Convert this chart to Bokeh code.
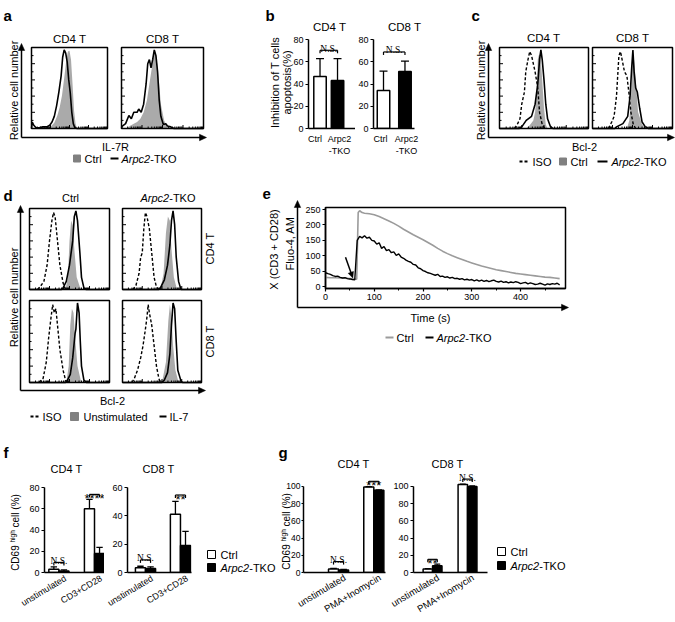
import math
from bokeh.plotting import figure
from bokeh.layouts import row, column
from bokeh.models import Range1d, FixedTicker
from bokeh.core.properties import value
from bokeh.embed import file_html
from bokeh.resources import INLINE

FONT = "Liberation Sans"
SERIF = "Liberation Serif"
HIST_FILL = "#aaaaaa"
LEGEND_FILL = "#808080"
CTRL_LINE = "#9b9b9b"
PI2 = math.pi / 2

# ============================ DATA ============================
# (a) IL-7R histograms (x: position in box 0-100, y: % of max)
A_CD4_CTRL_X = [22, 26, 30, 34, 37, 40, 43, 46, 48, 50, 52, 54, 56, 58, 60]
A_CD4_CTRL_Y = [0, 3, 7, 16, 26, 40, 62, 86, 95, 96, 85, 55, 22, 6, 0]
A_CD4_TKO_X = [0, 1, 3, 6, 10, 15, 20, 24, 27, 30, 33, 36, 39, 41, 43, 45, 47, 49, 51, 53, 55, 57, 60, 100]
A_CD4_TKO_Y = [0, 8, 4, 1, 1, 2, 2, 4, 8, 15, 28, 45, 65, 88, 97, 93, 82, 60, 44, 20, 6, 1, 0, 0]
A_CD8_CTRL_X = [6, 10, 15, 19, 23, 27, 31, 34, 37, 39, 41, 43, 46, 48, 52, 56, 60]
A_CD8_CTRL_Y = [0, 3, 6, 8, 12, 20, 35, 55, 75, 90, 95, 85, 55, 30, 10, 2, 0]
A_CD8_TKO_X = [0, 1, 5, 9, 12, 15, 19, 21, 24, 27, 30, 32, 34, 36, 38, 40, 42, 44, 46, 48, 51, 54, 56, 60, 64, 100]
A_CD8_TKO_Y = [0, 3, 6, 16, 12, 20, 20, 24, 20, 30, 55, 80, 85, 75, 85, 97, 90, 70, 35, 15, 5, 6, 3, 2, 0, 0]

# (c) Bcl-2 histograms
C_CD4_ISO_X = [17, 20, 23, 25, 28, 29.5, 32, 34, 36, 38, 40, 43, 45, 48, 51]
C_CD4_ISO_Y = [0, 5, 12, 30, 45, 70, 85, 95, 90, 80, 70, 50, 20, 5, 0]
C_CD4_CTRL_X = [30, 34, 38, 40, 42, 43, 44, 46, 48, 50, 52, 54]
C_CD4_CTRL_Y = [0, 4, 10, 20, 45, 85, 90, 92, 60, 25, 5, 0]
C_CD4_TKO_X = [0, 22, 25, 30, 36, 40, 43, 45, 46.5, 48, 50, 52, 54, 57, 60, 100]
C_CD4_TKO_Y = [0, 0, 2, 10, 15, 30, 55, 85, 97, 85, 60, 30, 12, 3, 0, 0]
C_CD8_ISO_X = [20, 24, 27, 30, 33, 35, 37, 40, 43, 46, 48, 51, 54]
C_CD8_ISO_Y = [0, 8, 15, 40, 90, 95, 85, 70, 65, 40, 20, 5, 0]
C_CD8_CTRL_X = [43, 46, 48, 50, 52, 54, 57, 62, 66]
C_CD8_CTRL_Y = [0, 10, 35, 90, 85, 60, 20, 5, 0]
C_CD8_TKO_X = [0, 28, 30, 38, 44, 47, 49, 50.5, 52, 54, 56, 59, 62, 66, 70, 100]
C_CD8_TKO_Y = [0, 0, 2, 6, 15, 40, 75, 97, 70, 50, 45, 25, 8, 2, 0, 0]

# (d) Bcl-2 histograms, ISO / Unstimulated / IL-7
D_CD4_CTRL_ISO_X = [10, 13, 18, 22, 25, 28, 30, 32, 35, 38, 42, 45]
D_CD4_CTRL_ISO_Y = [0, 3, 10, 30, 60, 85, 95, 90, 60, 30, 8, 0]
D_CD4_CTRL_UNS_X = [45, 48, 50, 52, 54, 56, 59, 63, 66]
D_CD4_CTRL_UNS_Y = [0, 15, 60, 85, 80, 50, 15, 3, 0]
D_CD4_CTRL_IL7_X = [0, 40, 42, 46, 50, 54, 56, 58, 60, 63, 65, 68, 71, 100]
D_CD4_CTRL_IL7_Y = [0, 0, 2, 10, 30, 60, 90, 97, 85, 45, 15, 2, 0, 0]
D_CD4_TKO_ISO_X = [13, 17, 21, 23, 25, 27, 29, 31, 34, 37, 40, 43, 46]
D_CD4_TKO_ISO_Y = [0, 5, 20, 40, 45, 75, 95, 90, 75, 45, 15, 3, 0]
D_CD4_TKO_UNS_X = [48, 52, 55, 57.5, 60, 62, 65, 69]
D_CD4_TKO_UNS_Y = [0, 20, 70, 90, 85, 50, 15, 0]
D_CD4_TKO_IL7_X = [0, 46, 48, 53, 57, 60, 62, 64, 66, 68, 71, 74, 100]
D_CD4_TKO_IL7_Y = [0, 0, 2, 12, 30, 55, 85, 97, 80, 40, 10, 0, 0]
D_CD8_CTRL_ISO_X = [12, 17, 21, 24, 27, 29, 31, 33, 35, 38, 42, 45, 47]
D_CD8_CTRL_ISO_Y = [0, 5, 25, 55, 80, 95, 85, 90, 70, 40, 15, 3, 0]
D_CD8_CTRL_UNS_X = [46, 49, 51, 53, 55, 57, 60, 64, 67]
D_CD8_CTRL_UNS_Y = [0, 20, 70, 90, 85, 55, 20, 3, 0]
D_CD8_CTRL_IL7_X = [0, 45, 47, 51, 54, 57, 58, 60, 62, 63.5, 65, 68, 71, 100]
D_CD8_CTRL_IL7_Y = [0, 0, 2, 10, 30, 60, 65, 97, 85, 50, 20, 3, 0, 0]
D_CD8_TKO_ISO_X = [12, 15, 19, 23, 26, 29, 31, 32.5, 34, 37, 40, 43, 46, 48]
D_CD8_TKO_ISO_Y = [0, 5, 15, 30, 45, 65, 80, 95, 85, 70, 45, 20, 5, 0]
D_CD8_TKO_UNS_X = [50, 55, 58, 60, 62, 64, 67, 71]
D_CD8_TKO_UNS_Y = [0, 25, 75, 95, 80, 45, 15, 0]
D_CD8_TKO_IL7_X = [0, 50, 53, 57, 60, 62, 64, 66, 68, 70, 74, 76, 100]
D_CD8_TKO_IL7_Y = [0, 0, 3, 12, 35, 70, 97, 90, 50, 15, 2, 0, 0]

# (b) inhibition of apoptosis (%)
B_LABELS = ["Ctrl", "Arpc2\n-TKO"]
B_CD4_MEAN = [46.8, 43.2]
B_CD4_SD = [16.0, 19.6]
B_CD8_MEAN = [34.2, 51.3]
B_CD8_SD = [17.4, 9.3]
B_YTICKS = [0, 20, 40, 60, 80]

# (e) calcium flux, Fluo-4 AM
E_T_CTRL = [0, 10, 20, 30, 40, 50, 60, 64, 67, 70, 75, 80, 90, 100, 110, 120, 130, 140, 150, 160,
            170, 180, 190, 200, 210, 220, 230, 240, 250, 260, 270, 280, 290, 300, 310, 320, 330,
            340, 350, 360, 370, 380, 390, 400, 410, 420, 430, 440, 450, 460, 470, 480]
E_CTRL = [30, 29, 29, 28, 27, 26, 25, 24, 240, 246, 240, 238, 236, 233, 227, 220, 213, 205, 196, 186,
          177, 168, 160, 152, 143, 134, 124, 115, 107, 100, 94, 88, 82, 77, 72, 67, 63,
          59, 55, 52, 49, 46, 43, 41, 39, 37, 35, 33, 31, 30, 28, 26]
E_T_TKO = [0, 5, 10, 15, 20, 25, 30, 35, 40, 45, 50, 55, 60, 65, 70, 75, 80, 85, 90, 95,
           100, 105, 110, 115, 120, 125, 130, 135, 140, 145, 150, 155, 160, 165, 170, 175, 180, 185, 190, 195,
           200, 205, 210, 215, 220, 225, 230, 235, 240, 245, 250, 255, 260, 265, 270, 275, 280, 285, 290, 295,
           300, 305, 310, 315, 320, 325, 330, 335, 340, 345, 350, 355, 360, 365, 370, 375, 380, 385, 390, 395,
           400, 405, 410, 415, 420, 425, 430, 435, 440, 445, 450, 455, 460, 465, 470, 475, 480]
E_TKO = [45, 42, 40, 36, 33, 34, 30, 28, 29, 26, 25, 23, 22, 150, 163, 158, 165, 157, 160, 150,
         148, 138, 142, 124, 130, 117, 120, 110, 113, 101, 106, 96, 92, 86, 82, 79, 72, 70, 61, 58,
         52, 49, 45, 43, 40, 37, 40, 33, 34, 30, 32, 28, 30, 26, 27, 24, 26, 22, 24, 21,
         23, 19, 22, 18, 21, 17, 20, 16, 19, 21, 17, 15, 18, 14, 16, 12, 15, 13, 16, 14,
         10, 12, 14, 9, 12, 10, 7, 8, 11, 8, 5, 9, 7, 10, 8, 11, 6]
E_XTICKS = [0, 100, 200, 300, 400]
E_XMINOR = [50, 150, 250, 350, 450]
E_YTICKS = [0, 50, 100, 150, 200, 250]
E_STIM = (41, 95, 56, 28)   # arrow marking stimulation: (t, value) -> (t, value)

# (f) CD69 high cells (%), unstimulated vs CD3+CD28
F_GROUPS = ["unstimulated", "CD3+CD28"]
F_CD4_CTRL = [3.0, 60.0]
F_CD4_CTRL_SD = [2.3, 8.8]
F_CD4_TKO = [1.5, 17.8]
F_CD4_TKO_SD = [0.9, 5.9]
F_CD8_CTRL = [3.3, 41.1]
F_CD8_CTRL_SD = [1.1, 9.1]
F_CD8_TKO = [2.9, 19.1]
F_CD8_TKO_SD = [1.1, 9.9]
F_CD4_SIG = [("N.S.", 9.5), ("****", 73.5)]
F_CD8_SIG = [("N.S.", 8.9), ("**", 54.7)]

# (g) CD69 high cells (%), unstimulated vs PMA+Inomycin
G_GROUPS = ["unstimulated", "PMA+Inomycin"]
G_CD4_CTRL = [4.1, 99.3]
G_CD4_CTRL_SD = [0.6, 0.5]
G_CD4_TKO = [3.0, 95.5]
G_CD4_TKO_SD = [0.5, 0.6]
G_CD8_CTRL = [4.1, 102.2]
G_CD8_CTRL_SD = [0.4, 0.5]
G_CD8_TKO = [7.8, 100.0]
G_CD8_TKO_SD = [1.9, 0.6]
G_CD4_SIG = [("N.S.", 12.7), ("***", 106.0)]
G_CD8_SIG = [("**", 15.3), ("N.S.", 108.6)]


# ============================ HELPERS ============================
class Geo:
    def __init__(self, fl, fr, ft, fb, xr, yr):
        self.fl, self.fr, self.ft, self.fb = fl, fr, ft, fb
        self.xr, self.yr = xr, yr

    def dx(self, px):
        return self.xr[0] + (px - self.fl) / (self.fr - self.fl) * (self.xr[1] - self.xr[0])

    def dy(self, py):
        return self.yr[0] + (self.fb - py) / (self.fb - self.ft) * (self.yr[1] - self.yr[0])

    def d(self, px, py):
        return self.dx(px), self.dy(py)

    def px(self, x):
        return self.fl + (x - self.xr[0]) / (self.xr[1] - self.xr[0]) * (self.fr - self.fl)

    def py(self, y):
        return self.fb - (y - self.yr[0]) / (self.yr[1] - self.yr[0]) * (self.fb - self.ft)

    def uy(self, n):
        return n * (self.yr[1] - self.yr[0]) / (self.fb - self.ft)


def clean(p):
    p.grid.visible = False
    p.outline_line_color = None
    p.background_fill_color = "white"
    p.border_fill_color = "white"


def canvas(x0, x1, y0, y1):
    p = figure(x_range=Range1d(x0, x1), y_range=Range1d(-y1, -y0),
               frame_width=x1 - x0, frame_height=y1 - y0, min_border=0,
               min_border_left=0, min_border_right=0, min_border_top=0, min_border_bottom=0,
               x_axis_location=None, y_axis_location=None, title=None, frame_align=False,
               toolbar_location=None, output_backend="svg")
    clean(p)
    return p, Geo(x0, x1, y0, y1, (x0, x1), (-y1, -y0))


def plotfig(x0, x1, y0, y1, fl, fr, ft, fb, xr, yr):
    p = figure(x_range=Range1d(*xr), y_range=Range1d(*yr),
               frame_width=fr - fl, frame_height=fb - ft, min_border=0,
               min_border_left=fl - x0, min_border_right=x1 - fr,
               min_border_top=ft - y0, min_border_bottom=y1 - fb, title=None,
               frame_align=False, toolbar_location=None, output_backend="svg")
    clean(p)
    return p, Geo(fl, fr, ft, fb, xr, yr)


def txt(p, g, px, py, s, size=11, align="left", base="middle", angle=0.0, style="normal",
        font=FONT, color="black"):
    x, y = g.d(px, py)
    p.text(x=[x], y=[y], text=[s], text_font=value(font), text_font_size=value(f"{size}px"),
           text_align=align, text_baseline=base, angle=angle, text_font_style=style,
           text_color=color, level="overlay")


def tko(p, g, px, py, size=11):
    txt(p, g, px, py, "Arpc2", size, "left", "middle", style="italic")
    txt(p, g, px + 2.612 * size, py, "-TKO", size, "left", "middle")


def seg(p, g, a, b, lw=1.5, color="black", dash="solid"):
    x0, y0 = g.d(*a)
    x1, y1 = g.d(*b)
    p.segment(x0=[x0], y0=[y0], x1=[x1], y1=[y1], line_width=lw, line_color=color,
              line_dash=dash, level="overlay")


def arrow(p, g, a, b, lw=1.5, hl=7.0, hw=3.2, color="black"):
    vx, vy = b[0] - a[0], b[1] - a[1]
    n = math.hypot(vx, vy)
    ux, uy = vx / n, vy / n
    seg(p, g, a, (b[0] - ux * hl * 0.6, b[1] - uy * hl * 0.6), lw=lw, color=color)
    pts = [b,
           (b[0] - ux * hl - uy * hw, b[1] - uy * hl + ux * hw),
           (b[0] - ux * hl + uy * hw, b[1] - uy * hl - ux * hw)]
    xs = [g.dx(q[0]) for q in pts]
    ys = [g.dy(q[1]) for q in pts]
    p.patch(x=xs, y=ys, fill_color=color, line_color=color, line_width=0.5, level="overlay")


def sq(p, g, l, t, r, b, fill, line="black", lw=1.0):
    x0, y0 = g.d(l, b)
    x1, y1 = g.d(r, t)
    p.quad(left=[x0], right=[x1], bottom=[y0], top=[y1], fill_color=fill,
           line_color=line, line_width=lw, level="overlay")


def hbox(p, g, name, box, curves):
    bl, bt, br, bb = box
    kx = (br - bl) / 100.0
    ky = (bb - bt) / 100.0
    sx = -(bl - g.fl) / kx
    sy = -(g.fb - bb) / ky
    xr = dict(p.extra_x_ranges)
    yr = dict(p.extra_y_ranges)
    xr[name] = Range1d(sx, sx + (g.fr - g.fl) / kx)
    yr[name] = Range1d(sy, sy + (g.fb - g.ft) / ky)
    p.extra_x_ranges = xr
    p.extra_y_ranges = yr
    for kind, xs, ys in curves:
        if kind == "fill":
            p.patch(x=xs, y=ys, fill_color=HIST_FILL, line_color=None,
                    x_range_name=name, y_range_name=name)
        elif kind == "iso":
            p.line(x=xs, y=ys, line_color="black", line_width=1.4, line_dash="3 2",
                   x_range_name=name, y_range_name=name)
        else:
            p.line(x=xs, y=ys, line_color="black", line_width=1.6,
                   x_range_name=name, y_range_name=name)
    fr = []
    for dec in range(4):
        fr.append((dec * 0.25, 3.5))
        for m in range(2, 10):
            fr.append((dec * 0.25 + 0.25 * math.log10(m), 2))
    fr.append((1.0, 3.5))
    x0s, y0s, x1s, y1s = [], [], [], []
    for f, ln in fr:
        X = bl + f * (br - bl)
        a, b0 = g.d(X, bb)
        _, b1 = g.d(X, bb - ln)
        x0s.append(a); y0s.append(b0); x1s.append(a); y1s.append(b1)
    for i in range(11):
        Y = bb - i / 10 * (bb - bt)
        ln = 3.5 if i % 2 == 0 else 2
        a0, c = g.d(bl, Y)
        a1, _ = g.d(bl + ln, Y)
        x0s.append(a0); y0s.append(c); x1s.append(a1); y1s.append(c)
    p.segment(x0=x0s, y0=y0s, x1=x1s, y1=y1s, line_color="black", line_width=1)
    l, t = g.d(bl, bt)
    r, b = g.d(br, bb)
    p.quad(left=[l], right=[r], top=[t], bottom=[b], fill_color=None,
           line_color="black", line_width=1.5)


def axis_style(p, size=9):
    for ax in p.axis:
        ax.axis_line_color = "black"
        ax.axis_line_width = 1.5
        ax.major_tick_line_color = "black"
        ax.major_tick_line_width = 1.2
        ax.major_tick_in = 0
        ax.major_tick_out = 3
        ax.minor_tick_line_color = None
        ax.minor_tick_in = 0
        ax.minor_tick_out = 0
        ax.major_label_text_font = FONT
        ax.major_label_text_font_size = f"{size}px"
        ax.major_label_text_color = "black"
        ax.major_label_standoff = 2


def cat_axis(p, ticks, labels, size, orient=None, standoff=4):
    p.xaxis.ticker = FixedTicker(ticks=ticks)
    p.xaxis.major_label_overrides = {t: s for t, s in zip(ticks, labels)}
    p.xaxis.major_tick_line_color = None
    p.xaxis.major_tick_out = 0
    p.xaxis.major_label_text_font_size = f"{size}px"
    p.xaxis.major_label_standoff = standoff
    if orient is not None:
        p.xaxis.major_label_orientation = orient


def bars(p, xs, means, sds, fill, width, cap):
    p.vbar(x=xs, top=means, bottom=0, width=width, fill_color=fill,
           line_color="black", line_width=1.5)
    tops = [m + s for m, s in zip(means, sds)]
    p.segment(x0=xs, y0=means, x1=xs, y1=tops, line_color="black", line_width=1.3)
    p.segment(x0=[x - cap for x in xs], y0=tops, x1=[x + cap for x in xs], y1=tops,
              line_color="black", line_width=1.3)


def bracket(p, g, x0, x1, y, label):
    drop = g.uy(3)
    p.segment(x0=[x0, x0, x1], y0=[y, y, y], x1=[x1, x0, x1], y1=[y, y - drop, y - drop],
              line_color="black", line_width=1.2, level="overlay")
    pxm = g.px((x0 + x1) / 2)
    pyl = g.py(y)
    if "*" in label:
        txt(p, g, pxm, pyl + 4.5, label, 13, "center", "alphabetic")
    else:
        txt(p, g, pxm, pyl - 1.5, label, 9.5, "center", "alphabetic", font=SERIF)


def cd69_label(p, g, cx, cy, size=10):
    ss = 6.5
    w_cd = 2.556 * size
    gap = 0.278 * size
    w_hi = 1.89 * ss
    w_cell = 3.333 * size
    total = w_cd + gap + w_hi + gap + w_cell
    y = cy + total / 2
    txt(p, g, cx, y, "CD69", size, "left", "middle", angle=PI2)
    y -= w_cd + gap
    txt(p, g, cx - 3, y, "high", ss, "left", "middle", angle=PI2)
    y -= w_hi + gap
    txt(p, g, cx, y, "cell (%)", size, "left", "middle", angle=PI2)


# ============================ PANEL a ============================
pa, ga = canvas(0, 218, 0, 170)
txt(pa, ga, 3, 15, "a", 15, base="alphabetic", style="bold")
txt(pa, ga, 69, 38, "CD4 T", 11.5, align="center")
txt(pa, ga, 162, 38, "CD8 T", 11.5, align="center")
hbox(pa, ga, "a1", (31, 47, 107, 128),
     [("fill", A_CD4_CTRL_X, A_CD4_CTRL_Y), ("line", A_CD4_TKO_X, A_CD4_TKO_Y)])
hbox(pa, ga, "a2", (121, 47, 203, 128),
     [("fill", A_CD8_CTRL_X, A_CD8_CTRL_Y), ("line", A_CD8_TKO_X, A_CD8_TKO_Y)])
arrow(pa, ga, (21, 137), (21, 43))
arrow(pa, ga, (21, 137), (206, 137))
txt(pa, ga, 13, 90, "Relative cell number", 11, align="center", angle=PI2)
txt(pa, ga, 115, 146, "IL-7R", 11, align="center")
sq(pa, ga, 73, 154.5, 80, 161.5, LEGEND_FILL, line=LEGEND_FILL)
txt(pa, ga, 84, 158, "Ctrl", 11)
seg(pa, ga, (110, 158), (118, 158), lw=2)
tko(pa, ga, 121, 158, 11)

# ============================ PANEL b ============================
pb1, gb1 = plotfig(218, 355, 0, 170, 308, 355, 39, 128, (0, 4), (0, 80))
pb2, gb2 = plotfig(355, 428, 0, 170, 372, 413, 39, 128, (0, 4), (0, 80))
B1_POS = [0.98, 2.47]
B2_POS = [0.976, 3.07]
B1_LAB = [0.55, 2.64]
B2_LAB = [0.68, 3.22]
for p, g, pos, lpos, mean, sd, w, title, tx in (
        (pb1, gb1, B1_POS, B1_LAB, B_CD4_MEAN, B_CD4_SD, 1.06, "CD4 T", 329),
        (pb2, gb2, B2_POS, B2_LAB, B_CD8_MEAN, B_CD8_SD, 1.22, "CD8 T", 403)):
    axis_style(p, 9)
    p.yaxis.ticker = FixedTicker(ticks=B_YTICKS)
    cat_axis(p, lpos, B_LABELS, 9, standoff=5)
    bars(p, [pos[0]], [mean[0]], [sd[0]], "white", w, w * 0.32)
    bars(p, [pos[1]], [mean[1]], [sd[1]], "black", w, w * 0.32)
    txt(p, g, tx, 26, title, 11.5, align="center")
bracket(pb1, gb1, B1_POS[0], B1_POS[1], 70.3, "N.S.")
bracket(pb2, gb2, B2_POS[0], B2_POS[1], 68.8, "N.S.")
txt(pb1, gb1, 265, 15, "b", 15, base="alphabetic", style="bold")
txt(pb1, gb1, 274, 82, "Inhibition of T cells", 11, align="center", angle=PI2)
txt(pb1, gb1, 286, 82, "apoptosis(%)", 11, align="center", angle=PI2)

# ============================ PANEL c ============================
pc, gc = canvas(428, 674, 0, 170)
txt(pc, gc, 470, 15, "c", 15, base="alphabetic", style="bold")
txt(pc, gc, 542, 37, "CD4 T", 11.5, align="center")
txt(pc, gc, 631, 37, "CD8 T", 11.5, align="center")
hbox(pc, gc, "c1", (498, 47, 587, 128),
     [("fill", C_CD4_CTRL_X, C_CD4_CTRL_Y), ("iso", C_CD4_ISO_X, C_CD4_ISO_Y),
      ("line", C_CD4_TKO_X, C_CD4_TKO_Y)])
hbox(pc, gc, "c2", (591, 47, 671, 128),
     [("fill", C_CD8_CTRL_X, C_CD8_CTRL_Y), ("iso", C_CD8_ISO_X, C_CD8_ISO_Y),
      ("line", C_CD8_TKO_X, C_CD8_TKO_Y)])
arrow(pc, gc, (487, 137), (487, 43))
arrow(pc, gc, (487, 137), (673, 137))
txt(pc, gc, 479, 90, "Relative cell number", 11, align="center", angle=PI2)
txt(pc, gc, 583, 146, "Bcl-2", 11, align="center")
seg(pc, gc, (518, 161), (528, 161), lw=2, dash="3 2")
txt(pc, gc, 531, 161, "ISO", 11)
sq(pc, gc, 558, 157.5, 565, 164.5, LEGEND_FILL, line=LEGEND_FILL)
txt(pc, gc, 569, 161, "Ctrl", 11)
seg(pc, gc, (596, 161), (606, 161), lw=2)
tko(pc, gc, 610, 161, 11)

# ============================ PANEL d ============================
pdd, gd = canvas(0, 218, 170, 424)
txt(pdd, gd, 3, 195, "d", 15, base="alphabetic", style="bold")
txt(pdd, gd, 70, 197, "Ctrl", 11, align="center")
tko(pdd, gd, 140, 197, 11)
hbox(pdd, gd, "d11", (29, 208, 109, 289),
     [("fill", D_CD4_CTRL_UNS_X, D_CD4_CTRL_UNS_Y), ("iso", D_CD4_CTRL_ISO_X, D_CD4_CTRL_ISO_Y),
      ("line", D_CD4_CTRL_IL7_X, D_CD4_CTRL_IL7_Y)])
hbox(pdd, gd, "d12", (122, 208, 201, 289),
     [("fill", D_CD4_TKO_UNS_X, D_CD4_TKO_UNS_Y), ("iso", D_CD4_TKO_ISO_X, D_CD4_TKO_ISO_Y),
      ("line", D_CD4_TKO_IL7_X, D_CD4_TKO_IL7_Y)])
hbox(pdd, gd, "d21", (29, 300, 109, 382),
     [("fill", D_CD8_CTRL_UNS_X, D_CD8_CTRL_UNS_Y), ("iso", D_CD8_CTRL_ISO_X, D_CD8_CTRL_ISO_Y),
      ("line", D_CD8_CTRL_IL7_X, D_CD8_CTRL_IL7_Y)])
hbox(pdd, gd, "d22", (122, 300, 201, 382),
     [("fill", D_CD8_TKO_UNS_X, D_CD8_TKO_UNS_Y), ("iso", D_CD8_TKO_ISO_X, D_CD8_TKO_ISO_Y),
      ("line", D_CD8_TKO_IL7_X, D_CD8_TKO_IL7_Y)])
txt(pdd, gd, 209, 248, "CD4 T", 11, align="center", angle=PI2)
txt(pdd, gd, 209, 341, "CD8 T", 11, align="center", angle=PI2)
arrow(pdd, gd, (20, 390), (20, 205))
arrow(pdd, gd, (20, 390), (205, 390))
txt(pdd, gd, 13, 297, "Relative cell number", 11, align="center", angle=PI2)
txt(pdd, gd, 112, 400, "Bcl-2", 11, align="center")
seg(pdd, gd, (30, 416), (39, 416), lw=2, dash="3 2")
txt(pdd, gd, 42, 416, "ISO", 11)
sq(pdd, gd, 70, 412, 78, 420, LEGEND_FILL, line=LEGEND_FILL)
txt(pdd, gd, 83, 416, "Unstimulated", 11)
seg(pdd, gd, (159, 416), (166, 416), lw=2)
txt(pdd, gd, 169, 416, "IL-7", 11)

# ============================ PANEL e ============================
pe, ge = plotfig(218, 674, 170, 424, 325, 565, 207, 288, (0, 492), (-6, 256.5))
axis_style(pe, 9)
pe.xaxis.ticker = FixedTicker(ticks=E_XTICKS, minor_ticks=E_XMINOR)
pe.xaxis.minor_tick_line_color = "black"
pe.xaxis.minor_tick_out = 2
pe.yaxis.ticker = FixedTicker(ticks=E_YTICKS)
pe.outline_line_color = "black"
pe.outline_line_width = 1.5
pe.line(E_T_CTRL, E_CTRL, line_color=CTRL_LINE, line_width=1.6)
pe.line(E_T_TKO, E_TKO, line_color="black", line_width=1.4)
arrow(pe, ge, (ge.px(E_STIM[0]), ge.py(E_STIM[1])), (ge.px(E_STIM[2]), ge.py(E_STIM[3])),
      lw=1.5, hl=6, hw=2.8)
txt(pe, ge, 262, 193, "e", 15, base="alphabetic", style="bold")
txt(pe, ge, 273, 249, "X (CD3 + CD28)", 11, align="center", angle=PI2)
txt(pe, ge, 289, 243, "Fluo-4, AM", 11, align="center", angle=PI2)
arrow(pe, ge, (297, 307), (297, 200))
arrow(pe, ge, (297, 307), (568, 307))
txt(pe, ge, 430, 317, "Time (s)", 11, align="center")
seg(pe, ge, (385, 337), (393, 337), lw=2, color=CTRL_LINE)
txt(pe, ge, 396, 337, "Ctrl", 11)
seg(pe, ge, (425, 337), (433, 337), lw=2)
tko(pe, ge, 436, 337, 11)

# ============================ PANEL f ============================
pf1, gf1 = plotfig(0, 104, 424, 620, 44, 104, 487, 572, (0, 3.75), (0, 80))
pf2, gf2 = plotfig(104, 278, 424, 620, 127, 191, 487, 572, (0, 4), (0, 60))
F1_POS = [0.9, 3.125]
F2_POS = [1.125, 3.31]
F_BW = 0.63
for p, g, pos, ctrl, csd, tk, tsd, sig, yt, title, tx in (
        (pf1, gf1, F1_POS, F_CD4_CTRL, F_CD4_CTRL_SD, F_CD4_TKO, F_CD4_TKO_SD, F_CD4_SIG,
         [0, 20, 40, 60, 80], "CD4 T", 66),
        (pf2, gf2, F2_POS, F_CD8_CTRL, F_CD8_CTRL_SD, F_CD8_TKO, F_CD8_TKO_SD, F_CD8_SIG,
         [0, 20, 40, 60], "CD8 T", 158)):
    axis_style(p, 9)
    p.yaxis.ticker = FixedTicker(ticks=yt)
    cat_axis(p, [c + 0.42 for c in pos], F_GROUPS, 9, orient=0.54, standoff=5)
    xc = [c - F_BW / 2 for c in pos]
    xt = [c + F_BW / 2 for c in pos]
    bars(p, xc, ctrl, csd, "white", F_BW, 0.2)
    bars(p, xt, tk, tsd, "black", F_BW, 0.2)
    for i, (lab, yv) in enumerate(sig):
        bracket(p, g, xc[i], xt[i], yv, lab)
    txt(p, g, tx, 468, title, 11, align="center")
txt(pf1, gf1, 3, 452, "f", 15, base="alphabetic", style="bold")
cd69_label(pf1, gf1, 15, 532)
sq(pf2, gf2, 207, 550, 215, 558, "white")
txt(pf2, gf2, 220, 554, "Ctrl", 11)
sq(pf2, gf2, 207, 563, 215, 571, "black")
tko(pf2, gf2, 220, 567, 11)

# ============================ PANEL g ============================
pg1, gg1 = plotfig(278, 388, 424, 620, 303, 385, 474, 572, (0, 4), (0, 113.95))
pg2, gg2 = plotfig(388, 674, 424, 620, 413, 487, 474, 572, (0, 4), (0, 113.95))
G1_POS = [1.71, 3.43]
G2_POS = [1.03, 2.92]
for p, g, pos, bw, ctrl, csd, tk, tsd, sig, title, tx in (
        (pg1, gg1, G1_POS, 0.49, G_CD4_CTRL, G_CD4_CTRL_SD, G_CD4_TKO, G_CD4_TKO_SD, G_CD4_SIG,
         "CD4 T", 353),
        (pg2, gg2, G2_POS, 0.51, G_CD8_CTRL, G_CD8_CTRL_SD, G_CD8_TKO, G_CD8_TKO_SD, G_CD8_SIG,
         "CD8 T", 447)):
    axis_style(p, 9)
    p.yaxis.ticker = FixedTicker(ticks=[0, 20, 40, 60, 80, 100])
    p.yaxis.bounds = (0, 100)
    cat_axis(p, [c + 0.3 for c in pos], G_GROUPS, 9.5, orient=0.54, standoff=4)
    xc = [c - bw / 2 for c in pos]
    xt = [c + bw / 2 for c in pos]
    bars(p, xc, ctrl, csd, "white", bw, 0.16)
    bars(p, xt, tk, tsd, "black", bw, 0.16)
    for i, (lab, yv) in enumerate(sig):
        bracket(p, g, xc[i], xt[i], yv, lab)
    txt(p, g, tx, 463, title, 11, align="center")
pg1.yaxis.major_label_text_font_size = "8.5px"
pg1.yaxis.major_label_standoff = 1
pg1.yaxis.major_tick_out = 2
txt(pg1, gg1, 278, 452, "g", 15, base="alphabetic", style="bold")
cd69_label(pg1, gg1, 285.5, 531)
sq(pg2, gg2, 497, 547, 505, 555, "white")
txt(pg2, gg2, 510, 551, "Ctrl", 11)
sq(pg2, gg2, 497, 561, 505, 569, "black")
tko(pg2, gg2, 510, 565, 11)

# ============================ LAYOUT ============================
layout = column(
    row(pa, pb1, pb2, pc, spacing=0),
    row(pdd, pe, spacing=0),
    row(pf1, pf2, pg1, pg2, spacing=0),
    spacing=0,
)
open("out.html", "w").write(file_html(layout, INLINE, "Arpc2 figure"))
